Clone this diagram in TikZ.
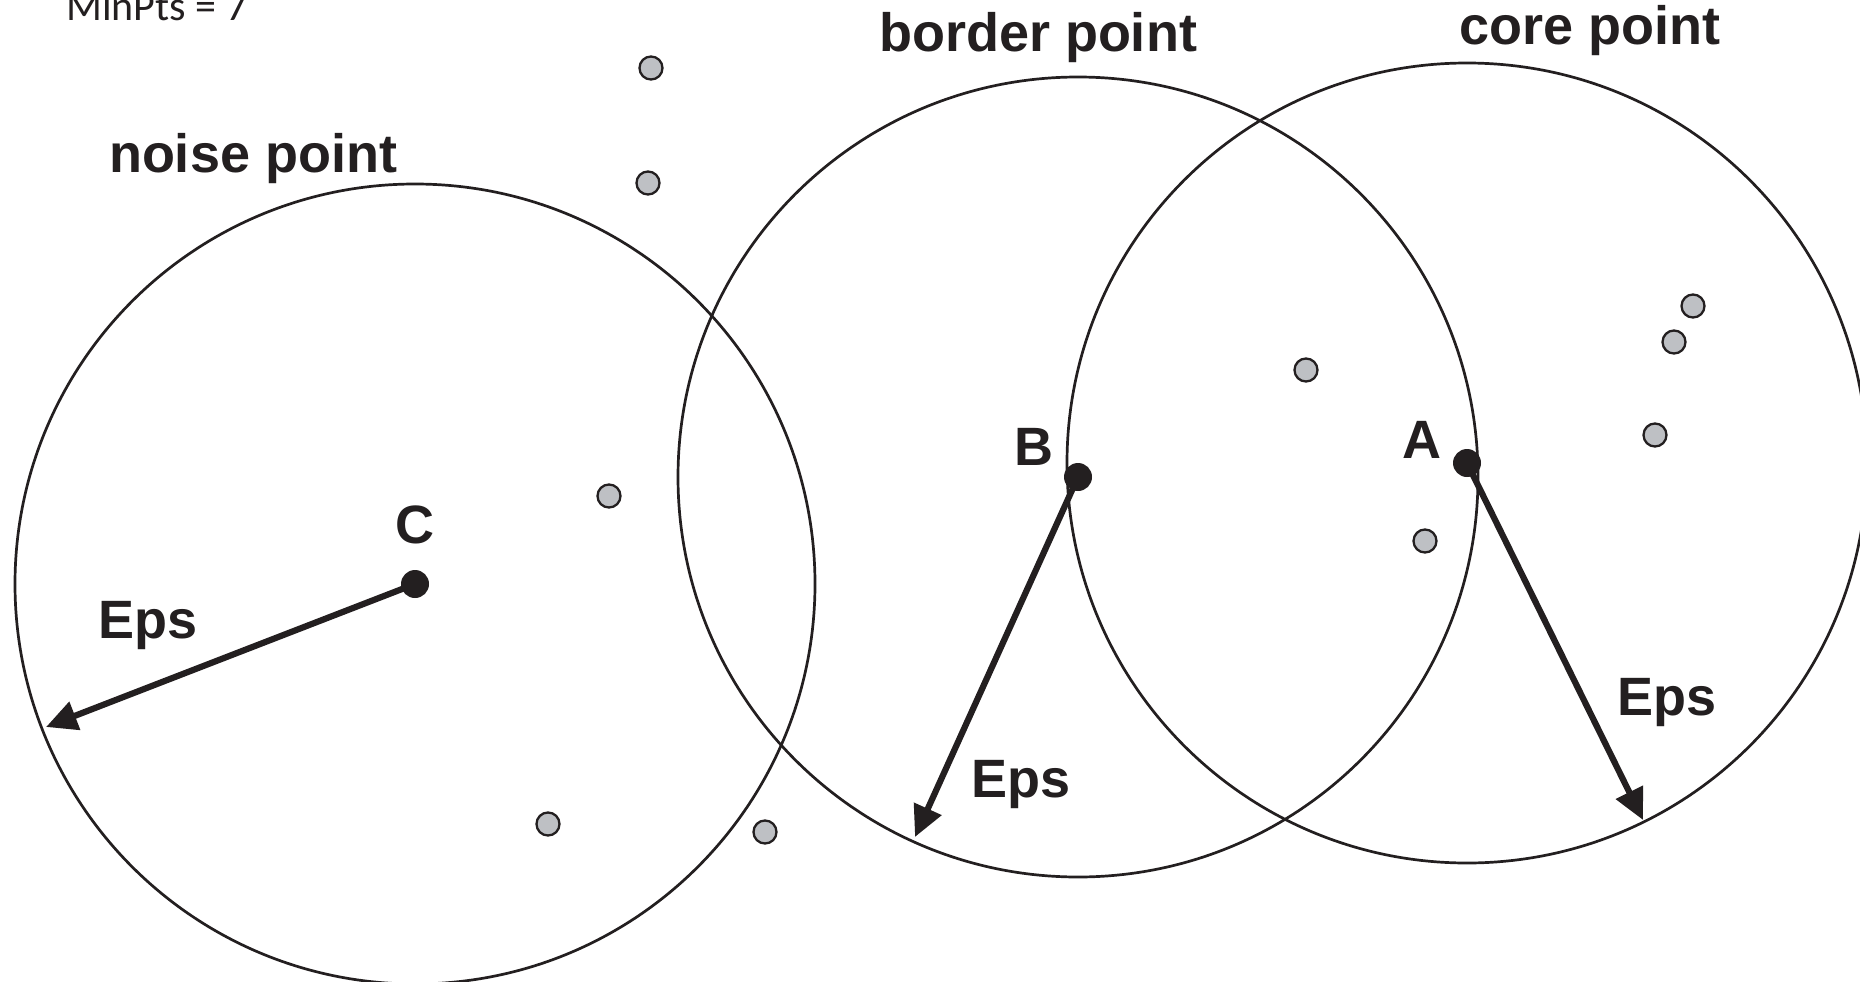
\documentclass[tikz,border=0pt]{standalone}
\usepackage{fontspec}
\setmainfont{Liberation Sans}
\newfontfamily\calfont{Carlito}
\usetikzlibrary{arrows.meta}
\definecolor{ink}{RGB}{35,31,32}
\definecolor{ptgray}{RGB}{190,192,196}
\tikzset{
  eps/.style={draw=ink, line width=2.7pt},
  core/.style={circle, fill=ink, inner sep=0pt, minimum size=28pt},
  other/.style={circle, draw=ink, fill=ptgray, line width=2.3pt, inner sep=0pt, minimum size=23pt},
  radius arrow/.style={draw=ink, line width=6.2pt, -{Triangle[length=31pt,width=29pt]}, shorten <=2pt},
  lab/.style={text=ink, font=\bfseries\fontsize{54}{60}\selectfont, anchor=base, inner sep=0pt},
  minlab/.style={text=ink, font=\calfont\fontsize{42}{50}\selectfont, anchor=base west, inner sep=0pt}
}
\begin{document}
\begin{tikzpicture}[x=1pt, y=-1pt]
\useasboundingbox (0,0) rectangle (1860,982);
\clip (0,0) rectangle (1860,982);
% eps neighbourhoods
\draw[eps] (415,584) circle[radius=400];
\draw[eps] (1078,477) circle[radius=400];
\draw[eps] (1467,463) circle[radius=400];
% labelled points
\node[core] (C) at (415,584) {};
\node[core] (B) at (1078,477) {};
\node[core] (A) at (1467,463) {};
% other points
\node[other] (p1) at (651,68) {};
\node[other] (p2) at (648,183) {};
\node[other] (p3) at (609,496) {};
\node[other] (p4) at (548,824) {};
\node[other] (p5) at (765,832) {};
\node[other] (p6) at (1306,370) {};
\node[other] (p7) at (1425,541) {};
\node[other] (p8) at (1693,306) {};
\node[other] (p9) at (1674,342) {};
\node[other] (p10) at (1655,435) {};
% radius arrows
\coordinate (tC) at (46,727);
\coordinate (tB) at (915,837);
\coordinate (tA) at (1643,820);
\draw[radius arrow] (C.center) -- (tC);
\draw[radius arrow] (B.center) -- (tB);
\draw[radius arrow] (A.center) -- (tA);
% labels
\node[minlab] (minpts) at (66,21) {MinPts = 7};
\node[lab] (noise) at (253,172) {noise point};
\node[lab] (border) at (1038,52) {border point};
\node[lab] (corelab) at (1590,45) {core point};
\node[lab] (lC) at (415,543) {C};
\node[lab] (lB) at (1034,465) {B};
\node[lab] (lA) at (1422,458) {A};
\node[lab] (eC) at (148,638) {Eps};
\node[lab] (eB) at (1021,797) {Eps};
\node[lab] (eA) at (1667,715) {Eps};
\end{tikzpicture}
\end{document}
